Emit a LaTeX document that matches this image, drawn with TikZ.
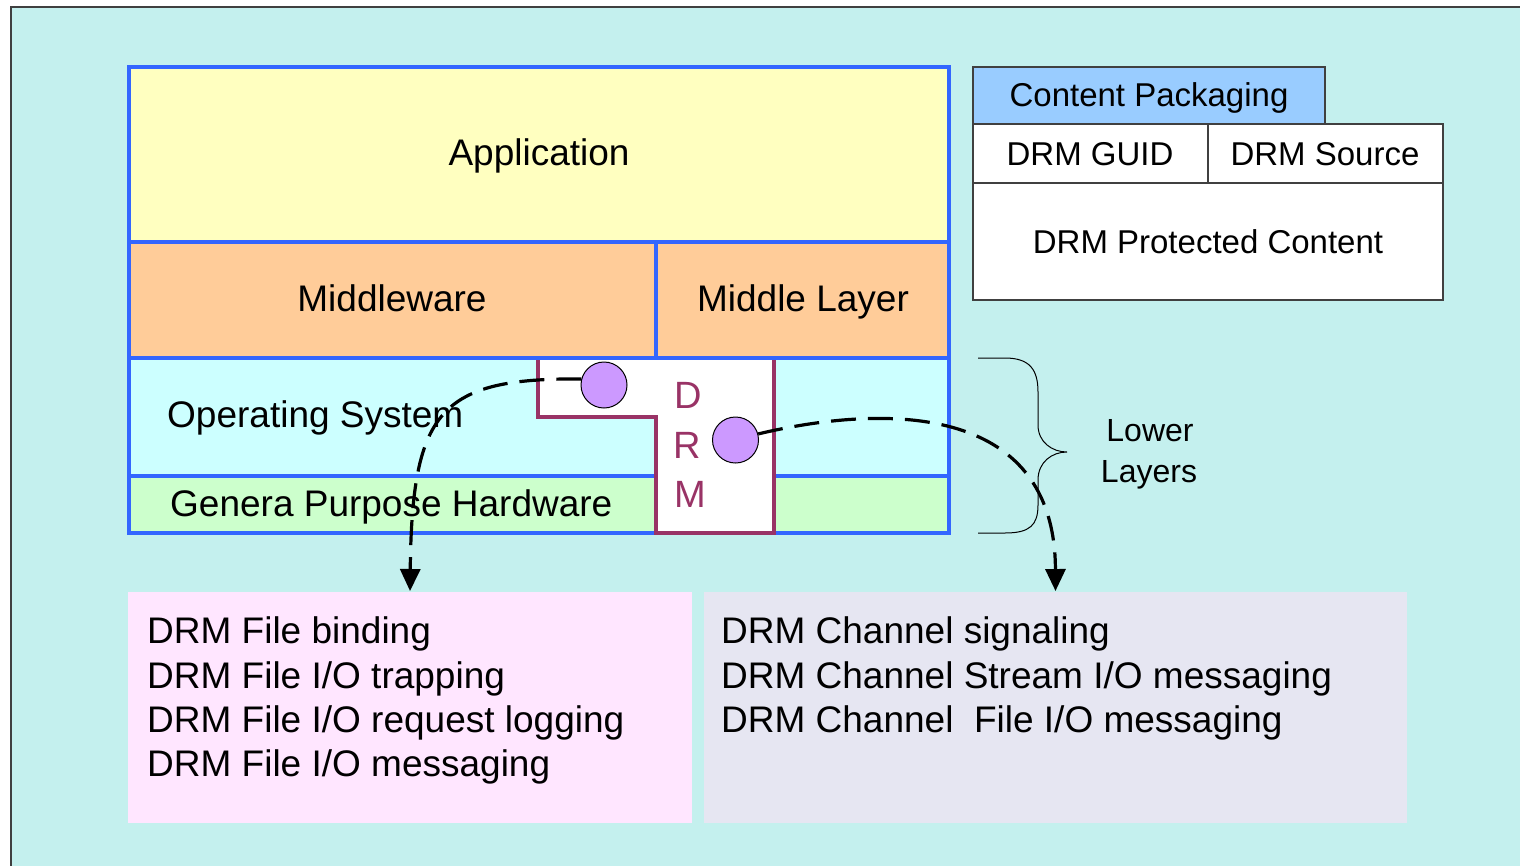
\documentclass[tikz,border=0pt]{standalone}
\usepackage{fontspec}
\setmainfont{Liberation Sans}
\usetikzlibrary{arrows.meta}

\definecolor{bgcyan}{HTML}{C4F0EE}
\definecolor{framegray}{HTML}{404040}
\definecolor{layerblue}{HTML}{3366FF}
\definecolor{appyellow}{HTML}{FFFFC0}
\definecolor{midorange}{HTML}{FFCC99}
\definecolor{oscyan}{HTML}{CCFFFF}
\definecolor{hwgreen}{HTML}{CCFFCC}
\definecolor{drmred}{HTML}{993366}
\definecolor{hookviolet}{HTML}{CC99FF}
\definecolor{pkgblue}{HTML}{99CCFF}
\definecolor{filepink}{HTML}{FFE6FF}
\definecolor{chanlav}{HTML}{E6E6F2}

\tikzset{
  layer/.style={rectangle, draw=layerblue, line width=4pt, inner sep=0pt, outer sep=0pt},
  pkgbox/.style={rectangle, draw=framegray, line width=1.5pt, fill=white, inner sep=0pt, outer sep=0pt},
  infobox/.style={rectangle, draw=none, inner sep=0pt, outer sep=0pt},
  hook/.style={circle, draw=black, line width=1pt, fill=hookviolet, minimum size=46pt, inner sep=0pt},
  big/.style={font=\fontsize{37}{44}\selectfont, inner sep=0pt, anchor=base},
  bigl/.style={big, anchor=base west},
  mid/.style={font=\fontsize{33}{40}\selectfont, inner sep=0pt, anchor=base},
  small/.style={font=\fontsize{32}{40}\selectfont, inner sep=0pt, anchor=base},
  drmletter/.style={font=\fontsize{38}{44}\selectfont, text=drmred, inner sep=0pt, anchor=base},
  flow/.style={line width=3.2pt, dash pattern=on 25pt off 12pt,
    -{Triangle[length=22pt 0 0,width=20pt 0 0]}, shorten >=1pt}
}

\begin{document}
\begin{tikzpicture}[x=1pt,y=-1pt]
\useasboundingbox (0,0) rectangle (1520,865);
\clip (0,0) rectangle (1520,865);
\fill[white] (0,0) rectangle (1520,865);
\filldraw[fill=bgcyan, draw=framegray, line width=2pt] (11,7) rectangle (1535,880);

% layered software stack
\node[layer, fill=appyellow, minimum width=820pt, minimum height=175pt] (app) at (539,154.5) {};
\node[layer, fill=midorange, minimum width=527pt, minimum height=116pt] (mw) at (392.5,300) {};
\node[layer, fill=midorange, minimum width=293pt, minimum height=116pt] (ml) at (802.5,300) {};
\node[layer, fill=oscyan, minimum width=820pt, minimum height=118pt] (os) at (539,417) {};
\node[layer, fill=hwgreen, minimum width=820pt, minimum height=57pt] (hw) at (539,504.5) {};

% DRM module cut into the lower layers
\fill[white] (538,360) -- (538,417) -- (656,417) -- (656,533) -- (774,533) -- (774,360) -- cycle;
\draw[drmred, line width=4pt, line join=miter] (538,360) -- (538,417) -- (656,417) -- (656,533) -- (774,533) -- (774,360);

\node[big] (tapp) at (539,165) {Application};
\node[big] (tmw) at (392,311) {Middleware};
\node[big] (tml) at (803,311) {Middle Layer};
\node[bigl] (tos) at (167,427) {Operating System};
\node[bigl] (thw) at (170,516) {Genera Purpose Hardware};

\node[drmletter] (drmD) at (688,408) {D};
\node[drmletter] (drmR) at (687,458) {R};
\node[drmletter] (drmM) at (690,507) {M};

% content package
\node[pkgbox, fill=pkgblue, minimum width=352pt, minimum height=57pt] (cp) at (1149,95.5) {};
\node[pkgbox, minimum width=235pt, minimum height=59pt] (guid) at (1090.5,153.5) {};
\node[pkgbox, minimum width=235pt, minimum height=59pt] (src) at (1325.5,153.5) {};
\node[pkgbox, minimum width=470pt, minimum height=117pt] (prot) at (1208,241.5) {};
\node[mid] (tcp) at (1149,106) {Content Packaging};
\node[mid] (tguid) at (1090,165) {DRM GUID};
\node[mid] (tsrc) at (1325,165) {DRM Source};
\node[mid] (tprot) at (1208,253) {DRM Protected Content};

% brace over the lower layers
\draw[black, line width=1pt] (978,358) -- (1005,358)
  .. controls (1030,358) and (1038,370) .. (1038,392) -- (1038,425)
  .. controls (1038,442) and (1052,452) .. (1067,452)
  .. controls (1052,452) and (1038,462) .. (1038,480) -- (1038,505)
  .. controls (1038,525) and (1030,533) .. (1005,533) -- (978,533);
\node[small] (tlow1) at (1150,441.5) {Lower};
\node[small] (tlow2) at (1149,482) {Layers};

% service lists
\node[infobox, fill=filepink, minimum width=564pt, minimum height=231pt] (fbox) at (410,707.5) {};
\node[infobox, fill=chanlav, minimum width=703pt, minimum height=231pt] (cbox) at (1055.5,707.5) {};

\node[bigl] (f1) at (147,643) {DRM File binding};
\node[bigl] (f2) at (147,688) {DRM File I/O trapping};
\node[bigl] (f3) at (147,732) {DRM File I/O request logging};
\node[bigl] (f4) at (147,776) {DRM File I/O messaging};

\node[bigl] (ch1) at (721,643) {DRM Channel signaling};
\node[bigl] (ch2) at (721,688) {DRM Channel Stream I/O messaging};
\node[bigl] (ch3) at (721,732) {DRM Channel\ \ File I/O messaging};

% hook points and their flows
\node[hook] (c1) at (604,385) {};
\node[hook] (c2) at (735.5,440) {};
\draw[flow] (c1.165) .. controls (440,378) and (412,410) .. (fbox.north);
\draw[flow] (c2.15) .. controls (880,405) and (1055,400) .. (cbox.north);
\end{tikzpicture}
\end{document}
